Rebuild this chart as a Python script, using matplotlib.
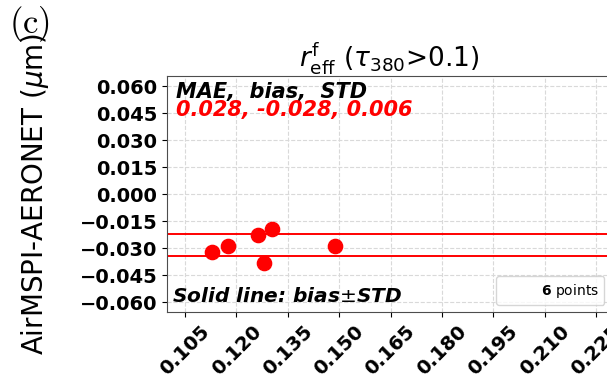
import numpy as np
import matplotlib
matplotlib.use("Agg")
import matplotlib.pyplot as plt
from matplotlib.lines import Line2D

# AERONET fine-mode effective radius vs. AirMSPI minus AERONET difference
aeronet_reff = [0.1128, 0.1174, 0.1264, 0.1303, 0.1279, 0.1489]
diff_reff = [-0.0319, -0.0286, -0.0226, -0.0193, -0.0383, -0.0286]

xticks = [0.105, 0.120, 0.135, 0.150, 0.165, 0.180, 0.195, 0.210, 0.225]
yticks = [-0.060, -0.045, -0.030, -0.015, 0.000, 0.015, 0.030, 0.045, 0.060]

diff = np.array(diff_reff)
mae = np.mean(np.abs(diff))
bias = np.mean(diff)
std = np.std(diff)


def fmt(v):
    return ("%.3f" % v).replace("-", "\u2212")


fig = plt.figure(figsize=(6.07, 3.75), dpi=100)
ax = fig.add_axes([0.2751, 0.168, 0.732, 0.629])

ax.scatter(aeronet_reff, diff_reff, s=105, color="red", zorder=3)
ax.axhline(bias + std, color="red", lw=1.4, zorder=2)
ax.axhline(bias - std, color="red", lw=1.4, zorder=2)

ax.set_xlim(0.0997, 0.2295)
ax.set_ylim(-0.0655, 0.0655)
ax.set_xticks(xticks)
ax.set_yticks(yticks)
ax.set_xticklabels([fmt(t) for t in xticks], rotation=45,
                   fontweight="bold", fontsize=14)
ax.set_yticklabels([fmt(t) for t in yticks], fontweight="bold", fontsize=14)
ax.grid(True, ls="--", color="0.85", lw=0.8)
for s in ax.spines.values():
    s.set_color("0.3")

ax.set_title(r"$r_{\rm eff}^{\rm f}$ ($\tau_{380}$>0.1)", fontsize=19)
ax.set_ylabel(r"AirMSPI-AERONET ($\mu$m)", fontsize=20)
ax.yaxis.set_label_coords(-0.262, 0.5)

ax.text(0.02, 0.975, "MAE,  bias,  STD", transform=ax.transAxes, ha="left",
        va="top", fontsize=15, fontweight="bold", fontstyle="italic")
ax.text(0.02, 0.9, "%.3f, %.3f, %.3f" % (mae, bias, std),
        transform=ax.transAxes, ha="left", va="top", fontsize=15,
        fontweight="bold", fontstyle="italic", color="red")
ax.text(0.012, 0.025, r"Solid line: bias$\pm$STD", transform=ax.transAxes,
        ha="left", va="bottom", fontsize=14.5, fontweight="bold",
        fontstyle="italic")

ax.legend([Line2D([], [], ls="none")],
          [r"$\bf{%d}$ points" % len(aeronet_reff)],
          loc="lower right", fontsize=10)

fig.text(0.015, 0.99, r"$\mathrm{(c)}$", fontsize=25, va="top",
         math_fontfamily="cm")

fig.savefig("out.png", dpi=100)
